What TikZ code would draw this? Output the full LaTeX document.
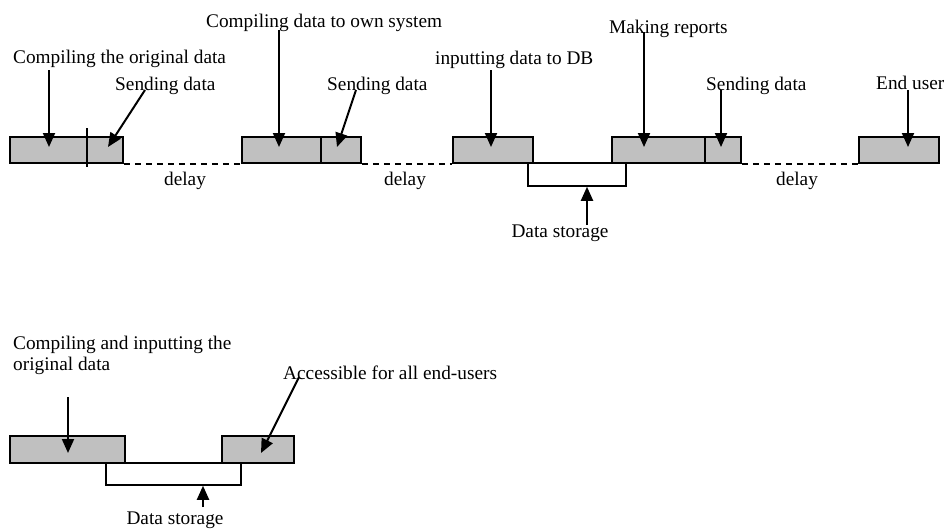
\documentclass[tikz,border=0pt]{standalone}
\usepackage{fontspec}
\setmainfont{Liberation Serif}
\usetikzlibrary{arrows.meta}
\definecolor{boxgray}{RGB}{192,192,192}
\begin{document}
\begin{tikzpicture}[x=1pt,y=-1pt,
  box/.style={draw,fill=boxgray,line width=1.5pt,inner sep=0pt,minimum height=26pt},
  store/.style={draw,fill=white,line width=1.5pt,inner sep=0pt},
  lbl/.style={anchor=base west,inner sep=0pt,font=\fontsize{19.3}{22}\selectfont},
  clbl/.style={anchor=base,inner sep=0pt,font=\fontsize{19.3}{22}\selectfont},
  ptr/.style={line width=2pt,-{Triangle[length=14pt,width=12pt]}},
  gap/.style={line width=1.6pt,dash pattern=on 6pt off 5pt}]
\useasboundingbox (0,0) rectangle (945,528);

% ---------- upper chain ----------
% data storage under the database stage
\node[store,minimum width=98pt,minimum height=23pt] (st1) at (577,174.5) {};

\node[box,minimum width=113pt] (b1) at (66.5,150) {};
\node[box,minimum width=79pt] (b2a) at (281.5,150) {};
\node[box,minimum width=40pt] (b2b) at (341,150) {};
\node[box,minimum width=80pt] (b3) at (493,150) {};
\node[box,minimum width=93pt] (b4a) at (658.5,150) {};
\node[box,minimum width=36pt] (b4b) at (723,150) {};
\node[box,minimum width=80pt] (b5) at (899,150) {};

% split mark in the first box
\coordinate (d1t) at (87,128);
\coordinate (d1b) at (87,167);
\draw[line width=1.5pt] (d1t) -- (d1b);

% waiting periods
\draw[gap] (b1.south east) -- (b2a.south west);
\draw[gap] (b2b.south east) -- (b3.south west);
\draw[gap] (b4b.south east) -- (b5.south west);

\node[clbl] (dl1) at (185,185) {delay};
\node[clbl] (dl2) at (405,185) {delay};
\node[clbl] (dl3) at (797,185) {delay};

% labels
\node[lbl] (t1) at (13,63) {Compiling the original data};
\node[lbl] (t2) at (115,90) {Sending data};
\node[lbl] (t3) at (206,27) {Compiling data to own system};
\node[lbl] (t4) at (327,90) {Sending data};
\node[lbl] (t5) at (435,64) {inputting data to DB};
\node[lbl] (t6) at (609,33) {Making reports};
\node[lbl] (t7) at (706,90) {Sending data};
\node[lbl] (t8) at (876,89) {End user};
\node[clbl] (t9) at (560,237) {Data storage};

% pointers
\coordinate (p1s) at (49,70);   \coordinate (p1e) at (49,147);
\coordinate (p2s) at (145,90);  \coordinate (p2e) at (108,147);
\coordinate (p3s) at (279,30);  \coordinate (p3e) at (279,147);
\coordinate (p4s) at (356,90);  \coordinate (p4e) at (337,147);
\coordinate (p5s) at (491,70);  \coordinate (p5e) at (491,147);
\coordinate (p6s) at (644,32);  \coordinate (p6e) at (644,147);
\coordinate (p7s) at (721,90);  \coordinate (p7e) at (721,147);
\coordinate (p8s) at (908,90);  \coordinate (p8e) at (908,147);
\coordinate (p9s) at (587,225);
\draw[ptr] (p1s) -- (p1e);
\draw[ptr] (p2s) -- (p2e);
\draw[ptr] (p3s) -- (p3e);
\draw[ptr] (p4s) -- (p4e);
\draw[ptr] (p5s) -- (p5e);
\draw[ptr] (p6s) -- (p6e);
\draw[ptr] (p7s) -- (p7e);
\draw[ptr] (p8s) -- (p8e);
\draw[ptr] (p9s) -- (p9s |- st1.south);

% ---------- lower chain ----------
\node[store,minimum width=135pt,minimum height=22pt] (st2) at (173.5,474) {};
\node[box,minimum width=115pt,minimum height=27pt] (ba) at (67.5,449.5) {};
\node[box,minimum width=72pt,minimum height=27pt] (bb) at (258,449.5) {};

\node[lbl] (u1) at (13,349) {Compiling and inputting the};
\node[lbl] (u2) at (13,370) {original data};
\node[lbl] (u3) at (283,379) {Accessible for all end-users};
\node[clbl] (u4) at (175,524) {Data storage};

\coordinate (q1s) at (68,397);  \coordinate (q1e) at (68,453);
\coordinate (q2s) at (299,377); \coordinate (q2e) at (261,453);
\coordinate (q3s) at (203,507);
\draw[ptr] (q1s) -- (q1e);
\draw[ptr] (q2s) -- (q2e);
\draw[ptr] (q3s) -- (q3s |- st2.south);
\end{tikzpicture}
\end{document}
